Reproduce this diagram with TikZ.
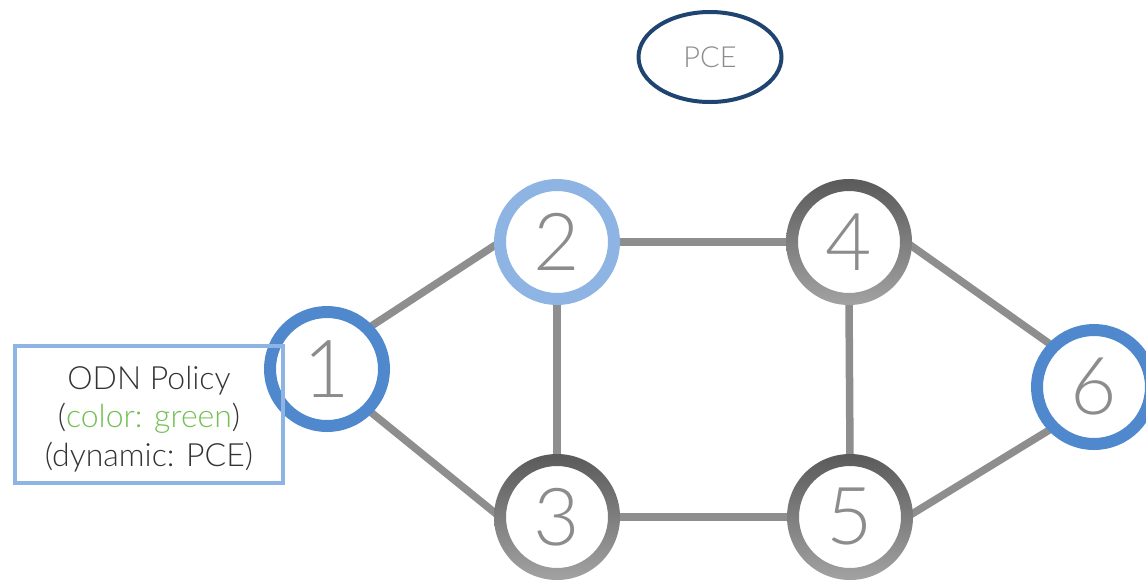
\documentclass[tikz,border=0pt]{standalone}
\usepackage{fontspec}
\setmainfont{Lato Light}
\usetikzlibrary{shapes.geometric,backgrounds}

\definecolor{linkgray}{HTML}{8E8E8E}
\definecolor{digitgray}{HTML}{8C8C8C}
\definecolor{ringblue}{HTML}{4F88CC}
\definecolor{palering}{HTML}{8DB4E2}
\definecolor{boxblue}{HTML}{8DB4E2}
\definecolor{navy}{HTML}{1F4470}
\definecolor{ringdark}{HTML}{5A5A5A}
\definecolor{ringlight}{HTML}{A2A2A2}
\definecolor{textdark}{HTML}{333333}
\definecolor{policygreen}{HTML}{72BF52}

\tikzset{
  router/.style={circle, minimum size=114pt, inner sep=0pt, outer sep=0pt,
    line width=12pt, fill=white, text=digitgray,
    font=\fontsize{80}{80}\selectfont},
  link/.style={draw=linkgray, line width=7.5pt},
  shadedring/.style={top color=ringdark, bottom color=ringlight, even odd rule},
}

\begin{document}
\begin{tikzpicture}[x=1pt, y=-1pt]
  \useasboundingbox (0,0) rectangle (1146,582);

  % controller
  \node[ellipse, draw=navy, line width=4pt, minimum width=143pt, minimum height=90pt,
        inner sep=0pt, text=digitgray, font=\fontsize{29}{29}\selectfont] (pce) at (710,57) {PCE};

  % routers
  \node[router, draw=ringblue] (n1) at (327,369) {1};
  \node[router, draw=palering] (n2) at (557,242) {2};
  \node[router] (n3) at (557,517) {3};
  \node[router] (n4) at (849,242) {4};
  \node[router] (n5) at (850,517) {5};
  \node[router, draw=ringblue] (n6) at (1094,387) {6};

  % graded outlines of routers 3, 4 and 5
  \foreach \r in {n3,n4,n5}
    \shade[shadedring] (\r.center) circle[radius=63] circle[radius=51];

  % links
  \begin{scope}[on background layer]
    \draw[link] (n1.north east) -- (n2.west);
    \draw[link] (n1.south east) -- (n3.west);
    \draw[link] (n2.east) -- (n4.west);
    \draw[link] (n2.south) -- (n3.north);
    \draw[link] (n4.south) -- (n5.north);
    \draw[link] (n3.east) -- (n5.west);
    \draw[link] (n4.east) -- (n6.north west);
    \draw[link] (n5.east) -- (n6.south west);
  \end{scope}

  % headend policy
  \node[draw=boxblue, line width=4pt, minimum width=268pt, minimum height=137pt,
        inner sep=0pt] (policy) at (149,414.5) {};
  \node[align=center, text=textdark, inner sep=0pt,
        font=\fontsize{32}{38.5}\selectfont] (policytext) at (149,419)
        {ODN Policy\\(\textcolor{policygreen}{color: green})\\(dynamic: PCE)};
\end{tikzpicture}
\end{document}
